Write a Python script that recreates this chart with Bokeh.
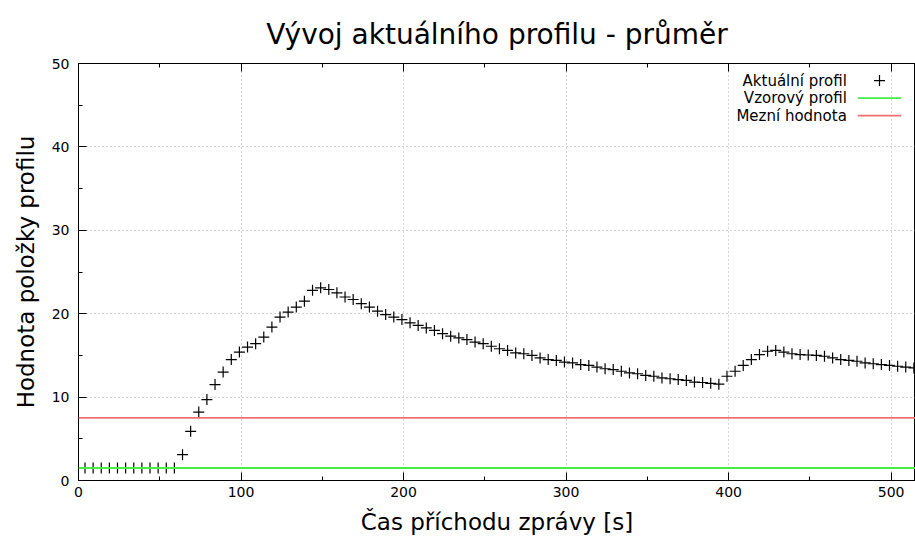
from bokeh.plotting import figure
from bokeh.models import Range1d, LinearAxis, Span, SingleIntervalTicker, ColumnDataSource
from bokeh.core.properties import value
from bokeh.embed import file_html
from bokeh.resources import INLINE

# ---- data ----
time_s = [5 * k - 1 for k in range(1, 104)]
actual_profile = [
    1.5, 1.5, 1.5, 1.5, 1.5, 1.5, 1.5, 1.5, 1.5, 1.5, 1.5, 1.5,
    3.1, 5.9, 8.2, 9.7, 11.5, 13.0, 14.5, 15.4, 16.0, 16.4, 17.2, 18.4,
    19.6, 20.2, 20.8, 21.5, 22.8, 23.1, 22.9, 22.5, 22.0, 21.7, 21.2, 20.8,
    20.3, 19.9, 19.6, 19.3, 18.9, 18.6, 18.3, 18.0, 17.6, 17.3, 17.1, 16.9,
    16.6, 16.4, 16.1, 15.8, 15.6, 15.3, 15.2, 15.0, 14.7, 14.5, 14.4, 14.2,
    14.1, 13.9, 13.8, 13.6, 13.4, 13.3, 13.1, 12.9, 12.8, 12.6, 12.5, 12.3,
    12.2, 12.1, 12.0, 11.8, 11.75, 11.65, 11.55, 12.5, 13.1, 13.8, 14.5, 15.1,
    15.5, 15.6, 15.4, 15.2, 15.1, 15.05, 15.0, 14.9, 14.7, 14.5, 14.4, 14.3,
    14.1, 14.0, 13.9, 13.8, 13.7, 13.6, 13.5,
]
reference_profile = 1.5   # Vzorový profil
limit_value = 7.5         # Mezní hodnota

legend_labels = ["Aktuální profil", "Vzorový profil", "Mezní hodnota"]
title_text = "Vývoj aktuálního profilu - průměr"
x_label = "Čas příchodu zprávy [s]"
y_label = "Hodnota položky profilu"
x_ticks = [0, 100, 200, 300, 400, 500]
X_MAX = 515
Y_MAX = 50

GREEN = "#44ee44"
RED = "#f07070"
FONT = "DejaVu Sans"

p = figure(width=915, height=537, output_backend="svg", toolbar_location=None,
           x_range=Range1d(0, X_MAX), y_range=Range1d(0, Y_MAX),
           min_border_left=78, min_border_right=0, min_border_top=63,
           min_border_bottom=57)
p.background_fill_color = "white"
p.border_fill_color = "white"
p.outline_line_color = "black"
p.outline_line_width = 1

p.title.text = title_text
p.title.align = "center"
p.title.text_font = FONT
p.title.text_font_size = "28px"
p.title.text_font_style = "normal"
p.title.text_color = "black"
p.title.standoff = 26

xt = SingleIntervalTicker(interval=100, num_minor_ticks=2)
yt = SingleIntervalTicker(interval=10, num_minor_ticks=2)
p.xaxis.ticker = xt
p.yaxis.ticker = yt
p.xgrid.ticker = xt
p.ygrid.ticker = yt

for ax in (p.xaxis[0], p.yaxis[0]):
    ax.axis_line_color = "black"
    ax.major_tick_in = 8
    ax.major_tick_out = 0
    ax.minor_tick_in = 4
    ax.minor_tick_out = 0
    ax.major_tick_line_color = "black"
    ax.minor_tick_line_color = "black"
    ax.major_label_text_font = FONT
    ax.major_label_text_font_size = "14px"
    ax.major_label_text_color = "black"
    ax.axis_label_text_font = FONT
    ax.axis_label_text_font_size = "23px"
    ax.axis_label_text_font_style = "normal"
    ax.axis_label_text_color = "black"

p.xaxis.axis_label = x_label
p.yaxis.axis_label = y_label
p.xaxis.major_label_standoff = 6
p.xaxis.axis_label_standoff = 9
p.yaxis.major_label_standoff = 9
p.yaxis.axis_label_standoff = 10

top_axis = LinearAxis(ticker=xt, major_tick_in=8, major_tick_out=0,
                      minor_tick_in=4, minor_tick_out=0, major_label_standoff=0,
                      axis_line_color="black", major_label_text_font_size="1px",
                      major_label_overrides={t: "" for t in x_ticks})
p.add_layout(top_axis, "above")

for g in (p.xgrid[0], p.ygrid[0]):
    g.grid_line_color = "#a8a8a8"
    g.grid_line_dash = "1 3"
    g.grid_line_width = 1

src = ColumnDataSource(dict(x=time_s, y=actual_profile))
p.scatter("x", "y", source=src, marker="cross", size=11, line_color="black",
          line_width=1.2)

p.add_layout(Span(location=reference_profile, dimension="width",
                  line_color=GREEN, line_width=1.8))
p.add_layout(Span(location=limit_value, dimension="width",
                  line_color=RED, line_width=1.8))

# ---- legend (gnuplot style: text right-aligned, sample on the right) ----
row_y = [Y_MAX * f for f in (0.959, 0.917, 0.875)]
text_x = X_MAX * 0.918
seg_x0 = X_MAX * 0.931
seg_x1 = X_MAX * 0.983
p.text(x=[text_x] * 3, y=row_y, text=legend_labels, text_align="right",
       text_baseline="middle", text_font=value(FONT), text_font_size="15px",
       text_color="black")
p.scatter(x=[(seg_x0 + seg_x1) / 2], y=[row_y[0]], marker="cross", size=11,
          line_color="black", line_width=1.2)
p.segment(x0=[seg_x0, seg_x0], y0=row_y[1:], x1=[seg_x1, seg_x1], y1=row_y[1:],
          line_color=[GREEN, RED], line_width=1.8)

open("out.html", "w").write(file_html(p, INLINE))
